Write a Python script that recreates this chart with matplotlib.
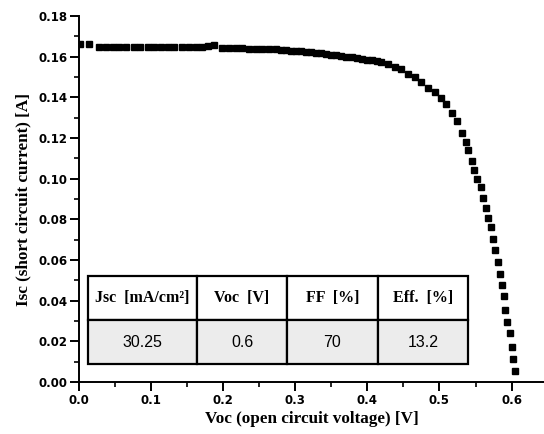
import matplotlib.pyplot as plt
from matplotlib.ticker import MultipleLocator

# I-V curve of the solar cell
voc = [0.0014, 0.0143, 0.0282, 0.0376, 0.0469, 0.0561, 0.0655, 0.0756, 0.0850, 0.0951,
       0.1045, 0.1138, 0.1230, 0.1323, 0.1430, 0.1523, 0.1616, 0.1709, 0.1787, 0.1871,
       0.1987, 0.2080, 0.2173, 0.2266, 0.2358, 0.2450, 0.2540, 0.2636, 0.2730, 0.2800,
       0.2870, 0.2940, 0.3010, 0.3080, 0.3150, 0.3220, 0.3290, 0.3360, 0.3430, 0.3500,
       0.3570, 0.3640, 0.3710, 0.3780, 0.3850, 0.3920, 0.3990, 0.4060, 0.4130, 0.4190,
       0.4286, 0.4377, 0.4471, 0.4564, 0.4656, 0.4749, 0.4843, 0.4935, 0.5028, 0.5097,
       0.5167, 0.5237, 0.5316, 0.5362, 0.5400, 0.5446, 0.5478, 0.5525, 0.5571, 0.5609,
       0.5645, 0.5678, 0.5710, 0.5738, 0.5770, 0.5808, 0.5840, 0.5864, 0.5891, 0.5910,
       0.5937, 0.5979, 0.6003, 0.6026, 0.6049]
isc = [0.1662, 0.1660, 0.1647, 0.1647, 0.1647, 0.1647, 0.1647, 0.1647, 0.1647, 0.1647,
       0.1647, 0.1647, 0.1647, 0.1647, 0.1647, 0.1647, 0.1647, 0.1648, 0.1652, 0.1655,
       0.1645, 0.1644, 0.1642, 0.1641, 0.1640, 0.1639, 0.1638, 0.1637, 0.1636, 0.1634,
       0.1632, 0.1630, 0.1628, 0.1626, 0.1624, 0.1621, 0.1619, 0.1616, 0.1613, 0.1610,
       0.1607, 0.1604, 0.1600, 0.1597, 0.1594, 0.1590, 0.1586, 0.1583, 0.1579, 0.1575,
       0.1563, 0.1548, 0.1538, 0.1514, 0.1498, 0.1473, 0.1448, 0.1424, 0.1399, 0.1366,
       0.1325, 0.1284, 0.1226, 0.1182, 0.1141, 0.1086, 0.1045, 0.0996, 0.0958, 0.0906,
       0.0857, 0.0807, 0.0761, 0.0704, 0.0651, 0.0589, 0.0531, 0.0478, 0.0421, 0.0355,
       0.0297, 0.0243, 0.0174, 0.0112, 0.0056]

headers = ["Jsc  [mA/cm²]", "Voc  [V]", "FF  [%]", "Eff.  [%]"]
values = ["30.25", "0.6", "70", "13.2"]

fig = plt.figure(figsize=(5.44, 4.34), dpi=100)
ax = fig.add_axes([79 / 544, 52 / 434, 465 / 544, 366 / 434])

ax.plot(voc, isc, linestyle="none", marker="s", markersize=4.3, color="k")

ax.set_xlim(0, 0.645)
ax.set_ylim(0, 0.18)
ax.xaxis.set_major_locator(MultipleLocator(0.1))
ax.xaxis.set_minor_locator(MultipleLocator(0.05))
ax.yaxis.set_major_locator(MultipleLocator(0.02))
ax.yaxis.set_minor_locator(MultipleLocator(0.01))
ax.xaxis.set_major_formatter(plt.FormatStrFormatter("%.1f"))
ax.yaxis.set_major_formatter(plt.FormatStrFormatter("%.2f"))

for s in ["top", "right"]:
    ax.spines[s].set_visible(False)
for s in ["left", "bottom"]:
    ax.spines[s].set_linewidth(1.4)

ax.tick_params(which="major", length=6.5, width=1.4, direction="out", pad=2)
ax.tick_params(which="minor", length=3.5, width=1.2, direction="out")
for lab in ax.get_xticklabels() + ax.get_yticklabels():
    lab.set_fontweight("bold")
    lab.set_fontsize(8.5)
    lab.set_fontfamily("DejaVu Sans")

ax.set_xlabel("Voc (open circuit voltage) [V]", family="Liberation Serif",
              fontweight="bold", fontsize=12.3, labelpad=3)
ax.set_ylabel("Isc (short circuit current) [A]", family="Liberation Serif",
              fontweight="bold", fontsize=12.3, labelpad=5)

# parameter table
tab = ax.table(cellText=[values], colLabels=headers,
               colWidths=[109, 89, 91, 90], cellLoc="center",
               bbox=[0.0194, 0.0494, 0.818, 0.239])
tab.auto_set_font_size(False)
for (r, c), cell in tab.get_celld().items():
    cell.set_linewidth(1.6)
    cell.set_edgecolor("k")
    t = cell.get_text()
    if r == 0:
        cell.set_facecolor("white")
        t.set_fontfamily("Liberation Serif")
        t.set_fontweight("bold")
        t.set_fontsize(11.5)
    else:
        cell.set_facecolor("#ececec")
        t.set_fontfamily("Liberation Sans")
        t.set_fontsize(11.5)

fig.savefig("out.png", dpi=100)
